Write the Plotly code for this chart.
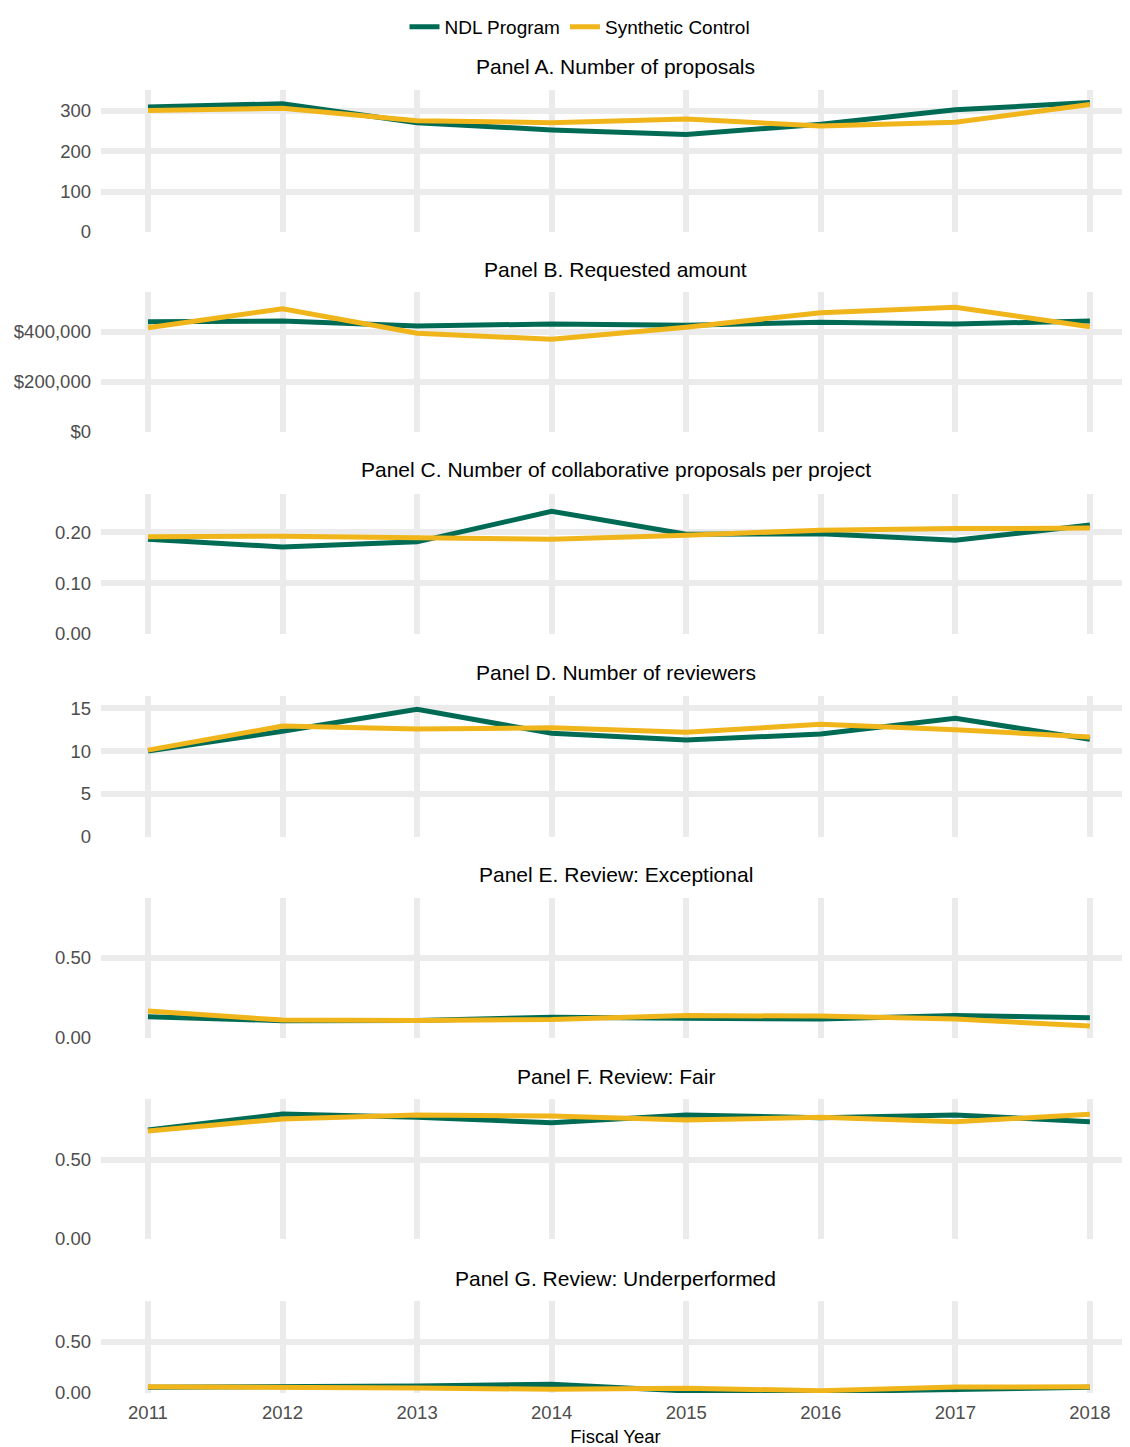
import plotly.graph_objects as go

years = [2011, 2012, 2013, 2014, 2015, 2016, 2017, 2018]

panel_titles = [
    "Panel A. Number of proposals",
    "Panel B. Requested amount",
    "Panel C. Number of collaborative proposals per project",
    "Panel D. Number of reviewers",
    "Panel E. Review: Exceptional",
    "Panel F. Review: Fair",
    "Panel G. Review: Underperformed",
]

ndl_proposals = [310, 318, 271, 253, 242, 267, 303, 321]
sc_proposals = [301, 307, 276, 271, 280, 263, 272, 316]

ndl_amount = [441000, 444000, 424000, 432000, 427000, 439000, 432000, 444000]
sc_amount = [417000, 493000, 395000, 371000, 419000, 477000, 499000, 421000]

ndl_collab = [0.186, 0.171, 0.181, 0.241, 0.196, 0.197, 0.184, 0.214]
sc_collab = [0.191, 0.192, 0.189, 0.186, 0.194, 0.204, 0.207, 0.208]

ndl_reviewers = [10.0, 12.3, 14.85, 12.06, 11.28, 11.98, 13.8, 11.36]
sc_reviewers = [10.1, 12.9, 12.56, 12.7, 12.17, 13.1, 12.48, 11.63]

ndl_exceptional = [0.133, 0.108, 0.110, 0.129, 0.123, 0.119, 0.140, 0.127]
sc_exceptional = [0.169, 0.112, 0.110, 0.115, 0.140, 0.137, 0.119, 0.075]

ndl_fair = [0.690, 0.791, 0.770, 0.736, 0.785, 0.768, 0.785, 0.742]
sc_fair = [0.684, 0.760, 0.785, 0.778, 0.753, 0.770, 0.742, 0.789]

ndl_under = [0.056, 0.060, 0.068, 0.085, 0.020, 0.013, 0.030, 0.056]
sc_under = [0.062, 0.062, 0.050, 0.036, 0.046, 0.023, 0.059, 0.060]

ndl_series = [ndl_proposals, ndl_amount, ndl_collab, ndl_reviewers, ndl_exceptional, ndl_fair, ndl_under]
sc_series = [sc_proposals, sc_amount, sc_collab, sc_reviewers, sc_exceptional, sc_fair, sc_under]

y_tickvals = [
    [0, 100, 200, 300],
    [0, 200000, 400000],
    [0, 0.1, 0.2],
    [0, 5, 10, 15],
    [0, 0.5],
    [0, 0.5],
    [0, 0.5],
]
y_ticktext = [
    ["0", "100", "200", "300"],
    ["$0", "$200,000", "$400,000"],
    ["0.00", "0.10", "0.20"],
    ["0", "5", "10", "15"],
    ["0.00", "0.50"],
    ["0.00", "0.50"],
    ["0.00", "0.50"],
]
y_ranges = [[0, 352], [0, 560000], [0, 0.275], [0, 16.4], [0, 0.875], [0, 0.886], [0, 0.9]]

# The page body has an 8px default margin; figure is sized/offset to fit the window.
OFF = 8
W = 1130 - OFF
H = 1447 - OFF
LEFT = 101 - OFF
# screen-pixel layout (top, bottom) of each panel and title centres
panel_px = [(90, 232), (292, 432), (494, 634), (696, 837), (898, 1038), (1099, 1239), (1301, 1393)]
title_px = [67, 269, 470, 672, 874, 1076, 1278]


def py(px):
    return 1 - (px - OFF) / H


GREEN = "#006b54"
GOLD = "#f1b51c"
GRID = "#ebebeb"
TICKFONT = dict(size=18.5, color="#4d4d4d")

fig = go.Figure()
layout = {}
annotations = []
for i in range(7):
    n = i + 1
    xa = "x" if n == 1 else f"x{n}"
    ya = "y" if n == 1 else f"y{n}"
    fig.add_trace(go.Scatter(x=years, y=ndl_series[i], mode="lines", name="NDL Program",
                             line=dict(color=GREEN, width=5), xaxis=xa, yaxis=ya,
                             showlegend=(i == 0), legendgroup="ndl"))
    fig.add_trace(go.Scatter(x=years, y=sc_series[i], mode="lines", name="Synthetic Control",
                             line=dict(color=GOLD, width=5), xaxis=xa, yaxis=ya,
                             showlegend=(i == 0), legendgroup="sc"))
    top, bot = panel_px[i]
    dom = [py(bot), py(top)]
    xkey = "xaxis" if n == 1 else f"xaxis{n}"
    ykey = "yaxis" if n == 1 else f"yaxis{n}"
    xd = dict(domain=[0, 1], anchor=ya, range=[2010.651, 2018.298],
              tickvals=years, showticklabels=(i == 6),
              showgrid=True, gridcolor=GRID, gridwidth=6,
              zeroline=False, showline=False, ticks="", automargin=False,
              tickfont=TICKFONT, ticklabelstandoff=6)
    if i == 6:
        xd["title"] = dict(text="Fiscal Year", font=dict(size=18.5, color="black"), standoff=8)
    layout[xkey] = xd
    layout[ykey] = dict(domain=dom, anchor=xa, range=y_ranges[i], tickvals=y_tickvals[i],
                        ticktext=y_ticktext[i],
                        showgrid=True, gridcolor=GRID, gridwidth=5.5,
                        zeroline=False, showline=False, ticks="", automargin=False,
                        tickfont=TICKFONT, ticklabelstandoff=9)
    annotations.append(dict(text=panel_titles[i], x=0.5, xref="paper", xanchor="center",
                            y=py(title_px[i]), yref="paper", yanchor="middle",
                            showarrow=False, font=dict(size=21, color="black")))

fig.update_layout(**layout)
fig.update_layout(
    width=W, height=H,
    margin=dict(l=LEFT, r=0, t=0, b=0),
    paper_bgcolor="white", plot_bgcolor="white",
    font=dict(family="Liberation Sans, Arial, sans-serif"),
    annotations=annotations,
    legend=dict(orientation="h", x=(580 - OFF - LEFT) / (W - LEFT), xanchor="center",
                y=1.0, yanchor="top",
                font=dict(size=19, color="black"), itemwidth=30),
)
fig.write_html("out.html")
